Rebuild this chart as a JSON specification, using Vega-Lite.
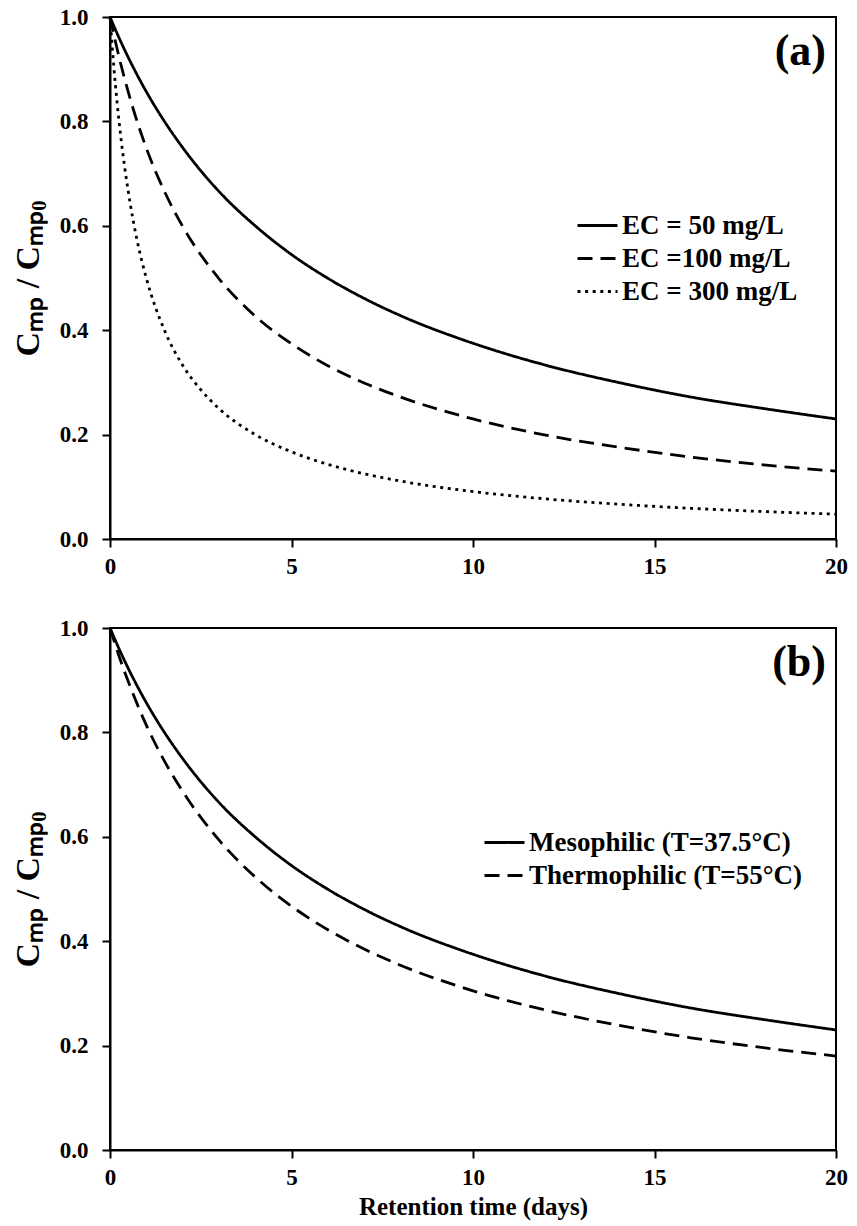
{
  "$schema": "https://vega.github.io/schema/vega-lite/v6.json",
  "padding": {"left": 10, "top": 5, "right": 6, "bottom": 3},
  "spacing": 37,
  "datasets": {
    "a": [
      {"t": 0, "c": 1, "s": "EC = 50 mg/L"},
      {"t": 0.25, "c": 0.960, "s": "EC = 50 mg/L"},
      {"t": 0.5, "c": 0.923, "s": "EC = 50 mg/L"},
      {"t": 1, "c": 0.857, "s": "EC = 50 mg/L"},
      {"t": 1.5, "c": 0.800, "s": "EC = 50 mg/L"},
      {"t": 2, "c": 0.750, "s": "EC = 50 mg/L"},
      {"t": 3, "c": 0.666, "s": "EC = 50 mg/L"},
      {"t": 4, "c": 0.600, "s": "EC = 50 mg/L"},
      {"t": 5, "c": 0.545, "s": "EC = 50 mg/L"},
      {"t": 6, "c": 0.4995, "s": "EC = 50 mg/L"},
      {"t": 7, "c": 0.461, "s": "EC = 50 mg/L"},
      {"t": 8, "c": 0.428, "s": "EC = 50 mg/L"},
      {"t": 10, "c": 0.375, "s": "EC = 50 mg/L"},
      {"t": 12, "c": 0.333, "s": "EC = 50 mg/L"},
      {"t": 14, "c": 0.300, "s": "EC = 50 mg/L"},
      {"t": 16, "c": 0.272, "s": "EC = 50 mg/L"},
      {"t": 18, "c": 0.250, "s": "EC = 50 mg/L"},
      {"t": 20, "c": 0.230, "s": "EC = 50 mg/L"},
      {"t": 0, "c": 1, "s": "EC =100 mg/L"},
      {"t": 0.25, "c": 0.923, "s": "EC =100 mg/L"},
      {"t": 0.5, "c": 0.857, "s": "EC =100 mg/L"},
      {"t": 1, "c": 0.749, "s": "EC =100 mg/L"},
      {"t": 1.5, "c": 0.666, "s": "EC =100 mg/L"},
      {"t": 2, "c": 0.599, "s": "EC =100 mg/L"},
      {"t": 3, "c": 0.499, "s": "EC =100 mg/L"},
      {"t": 4, "c": 0.427, "s": "EC =100 mg/L"},
      {"t": 5, "c": 0.374, "s": "EC =100 mg/L"},
      {"t": 6, "c": 0.332, "s": "EC =100 mg/L"},
      {"t": 7, "c": 0.299, "s": "EC =100 mg/L"},
      {"t": 8, "c": 0.272, "s": "EC =100 mg/L"},
      {"t": 10, "c": 0.230, "s": "EC =100 mg/L"},
      {"t": 12, "c": 0.199, "s": "EC =100 mg/L"},
      {"t": 14, "c": 0.176, "s": "EC =100 mg/L"},
      {"t": 16, "c": 0.157, "s": "EC =100 mg/L"},
      {"t": 18, "c": 0.142, "s": "EC =100 mg/L"},
      {"t": 20, "c": 0.130, "s": "EC =100 mg/L"},
      {"t": 0, "c": 1, "s": "EC = 300 mg/L"},
      {"t": 0.1, "c": 0.909, "s": "EC = 300 mg/L"},
      {"t": 0.2, "c": 0.833, "s": "EC = 300 mg/L"},
      {"t": 0.3, "c": 0.769, "s": "EC = 300 mg/L"},
      {"t": 0.5, "c": 0.667, "s": "EC = 300 mg/L"},
      {"t": 0.75, "c": 0.571, "s": "EC = 300 mg/L"},
      {"t": 1, "c": 0.5, "s": "EC = 300 mg/L"},
      {"t": 1.5, "c": 0.4, "s": "EC = 300 mg/L"},
      {"t": 2, "c": 0.333, "s": "EC = 300 mg/L"},
      {"t": 2.5, "c": 0.286, "s": "EC = 300 mg/L"},
      {"t": 3, "c": 0.25, "s": "EC = 300 mg/L"},
      {"t": 4, "c": 0.2, "s": "EC = 300 mg/L"},
      {"t": 5, "c": 0.167, "s": "EC = 300 mg/L"},
      {"t": 6, "c": 0.143, "s": "EC = 300 mg/L"},
      {"t": 7, "c": 0.125, "s": "EC = 300 mg/L"},
      {"t": 8, "c": 0.111, "s": "EC = 300 mg/L"},
      {"t": 10, "c": 0.0909, "s": "EC = 300 mg/L"},
      {"t": 12, "c": 0.0769, "s": "EC = 300 mg/L"},
      {"t": 14, "c": 0.0667, "s": "EC = 300 mg/L"},
      {"t": 16, "c": 0.0588, "s": "EC = 300 mg/L"},
      {"t": 18, "c": 0.0526, "s": "EC = 300 mg/L"},
      {"t": 20, "c": 0.0476, "s": "EC = 300 mg/L"}
    ],
    "b": [
      {"t": 0, "c": 1, "s": "Mesophilic (T=37.5°C)"},
      {"t": 0.25, "c": 0.960, "s": "Mesophilic (T=37.5°C)"},
      {"t": 0.5, "c": 0.923, "s": "Mesophilic (T=37.5°C)"},
      {"t": 1, "c": 0.857, "s": "Mesophilic (T=37.5°C)"},
      {"t": 1.5, "c": 0.800, "s": "Mesophilic (T=37.5°C)"},
      {"t": 2, "c": 0.750, "s": "Mesophilic (T=37.5°C)"},
      {"t": 3, "c": 0.666, "s": "Mesophilic (T=37.5°C)"},
      {"t": 4, "c": 0.600, "s": "Mesophilic (T=37.5°C)"},
      {"t": 5, "c": 0.545, "s": "Mesophilic (T=37.5°C)"},
      {"t": 6, "c": 0.4995, "s": "Mesophilic (T=37.5°C)"},
      {"t": 7, "c": 0.461, "s": "Mesophilic (T=37.5°C)"},
      {"t": 8, "c": 0.428, "s": "Mesophilic (T=37.5°C)"},
      {"t": 10, "c": 0.375, "s": "Mesophilic (T=37.5°C)"},
      {"t": 12, "c": 0.333, "s": "Mesophilic (T=37.5°C)"},
      {"t": 14, "c": 0.300, "s": "Mesophilic (T=37.5°C)"},
      {"t": 16, "c": 0.272, "s": "Mesophilic (T=37.5°C)"},
      {"t": 18, "c": 0.250, "s": "Mesophilic (T=37.5°C)"},
      {"t": 20, "c": 0.230, "s": "Mesophilic (T=37.5°C)"},
      {"t": 0, "c": 1, "s": "Thermophilic (T=55°C)"},
      {"t": 0.25, "c": 0.946, "s": "Thermophilic (T=55°C)"},
      {"t": 0.5, "c": 0.898, "s": "Thermophilic (T=55°C)"},
      {"t": 1, "c": 0.814, "s": "Thermophilic (T=55°C)"},
      {"t": 1.5, "c": 0.745, "s": "Thermophilic (T=55°C)"},
      {"t": 2, "c": 0.687, "s": "Thermophilic (T=55°C)"},
      {"t": 3, "c": 0.594, "s": "Thermophilic (T=55°C)"},
      {"t": 4, "c": 0.523, "s": "Thermophilic (T=55°C)"},
      {"t": 5, "c": 0.467, "s": "Thermophilic (T=55°C)"},
      {"t": 6, "c": 0.422, "s": "Thermophilic (T=55°C)"},
      {"t": 7, "c": 0.385, "s": "Thermophilic (T=55°C)"},
      {"t": 8, "c": 0.354, "s": "Thermophilic (T=55°C)"},
      {"t": 10, "c": 0.305, "s": "Thermophilic (T=55°C)"},
      {"t": 12, "c": 0.268, "s": "Thermophilic (T=55°C)"},
      {"t": 14, "c": 0.239, "s": "Thermophilic (T=55°C)"},
      {"t": 16, "c": 0.215, "s": "Thermophilic (T=55°C)"},
      {"t": 18, "c": 0.196, "s": "Thermophilic (T=55°C)"},
      {"t": 20, "c": 0.180, "s": "Thermophilic (T=55°C)"}
    ],
    "la": [{"t": 20, "c": 1, "label": "(a)"}],
    "lb": [{"t": 20, "c": 1, "label": "(b)"}]
  },
  "resolve": {"scale": {"strokeDash": "independent"}, "legend": {"strokeDash": "independent"}},
  "vconcat": [
    {
      "width": 726,
      "height": 522,
      "layer": [
        {
          "data": {"name": "a"},
          "mark": {"type": "line", "interpolate": "monotone", "color": "black", "strokeWidth": 2.8, "strokeCap": "butt"},
          "encoding": {
            "x": {"field": "t", "type": "quantitative", "scale": {"domain": [0, 20], "nice": false},
                  "axis": {"title": null, "values": [0, 5, 10, 15, 20]}},
            "y": {"field": "c", "type": "quantitative", "scale": {"domain": [0, 1], "nice": false},
                  "axis": {"title": "Cₘₚ / Cₘₚ₀", "values": [0, 0.2, 0.4, 0.6, 0.8, 1.0], "format": ".1f"}},
            "strokeDash": {"field": "s", "type": "nominal",
                  "scale": {"domain": ["EC = 50 mg/L", "EC =100 mg/L", "EC = 300 mg/L"], "range": [[1, 0], [15, 8], [3, 4.6]]},
                  "legend": {"orient": "none", "legendX": 466, "legendY": 192}}
          }
        },
        {
          "data": {"name": "la"},
          "mark": {"type": "text", "align": "right", "baseline": "middle", "dx": -10, "dy": 35, "font": "Liberation Serif", "fontWeight": "bold", "fontSize": 44, "color": "black"},
          "encoding": {
            "x": {"field": "t", "type": "quantitative"},
            "y": {"field": "c", "type": "quantitative"},
            "text": {"field": "label"}
          }
        }
      ]
    },
    {
      "width": 726,
      "height": 522,
      "layer": [
        {
          "data": {"name": "b"},
          "mark": {"type": "line", "interpolate": "monotone", "color": "black", "strokeWidth": 2.8, "strokeCap": "butt"},
          "encoding": {
            "x": {"field": "t", "type": "quantitative", "scale": {"domain": [0, 20], "nice": false},
                  "axis": {"title": "Retention time (days)", "values": [0, 5, 10, 15, 20]}},
            "y": {"field": "c", "type": "quantitative", "scale": {"domain": [0, 1], "nice": false},
                  "axis": {"title": "Cₘₚ / Cₘₚ₀", "values": [0, 0.2, 0.4, 0.6, 0.8, 1.0], "format": ".1f"}},
            "strokeDash": {"field": "s", "type": "nominal",
                  "scale": {"domain": ["Mesophilic (T=37.5°C)", "Thermophilic (T=55°C)"], "range": [[1, 0], [15, 8]]},
                  "legend": {"orient": "none", "legendX": 373, "legendY": 198}}
          }
        },
        {
          "data": {"name": "lb"},
          "mark": {"type": "text", "align": "right", "baseline": "middle", "dx": -10, "dy": 35, "font": "Liberation Serif", "fontWeight": "bold", "fontSize": 44, "color": "black"},
          "encoding": {
            "x": {"field": "t", "type": "quantitative"},
            "y": {"field": "c", "type": "quantitative"},
            "text": {"field": "label"}
          }
        }
      ]
    }
  ],
  "config": {
    "background": "white",
    "view": {"stroke": "black", "strokeWidth": 2},
    "font": "Liberation Serif",
    "axis": {
      "grid": false,
      "labelFlush": false,
      "labelOverlap": false,
      "domainColor": "black", "domainWidth": 2,
      "tickColor": "black", "tickWidth": 2, "tickSize": 8,
      "labelFont": "Liberation Serif", "labelFontWeight": "bold", "labelFontSize": 23, "labelColor": "black",
      "titleFont": "Liberation Serif", "titleFontWeight": "bold", "titleFontSize": 25, "titleColor": "black"
    },
    "axisX": {"labelPadding": 8, "titlePadding": 5},
    "axisY": {"labelPadding": 14, "titleFontSize": 34, "titlePadding": 14},
    "legend": {
      "title": null,
      "symbolType": "stroke",
      "symbolStrokeColor": "black",
      "symbolStrokeWidth": 2.8,
      "symbolSize": 1600,
      "labelFont": "Liberation Serif", "labelFontWeight": "bold", "labelFontSize": 27, "labelColor": "black",
      "labelOffset": 3,
      "clipHeight": 33,
      "rowPadding": 0,
      "padding": 0,
      "labelLimit": 400
    }
  }
}
